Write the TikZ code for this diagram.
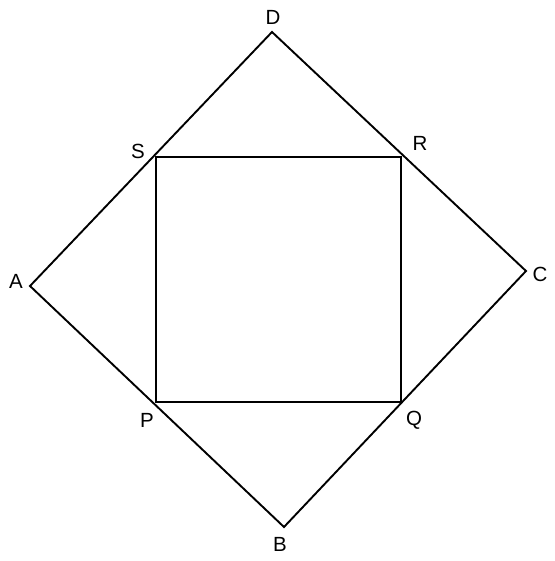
\documentclass[tikz,border=0pt]{standalone}
\usepackage{fontspec}
\setmainfont{Liberation Sans}
\begin{document}
\begin{tikzpicture}[x=1pt,y=-1pt,
  edge/.style={draw=black,line width=1.9pt,line join=miter},
  lbl/.style={font=\fontsize{20.5}{24}\selectfont,inner sep=0pt}]
\useasboundingbox (0,0) rectangle (554,561);
\coordinate (A) at (30,286);
\coordinate (B) at (284,527);
\coordinate (C) at (526,271);
\coordinate (D) at (272,32);
\coordinate (P) at (156,402);
\coordinate (Q) at (401,402);
\coordinate (R) at (401,157);
\coordinate (S) at (156,157);
\draw[edge] (A) -- (B) -- (C) -- (D) -- cycle;
\draw[edge] (P) -- (Q) -- (R) -- (S) -- cycle;
\node[lbl] (lA) at (16,281) {A};
\node[lbl] (lB) at (280,544) {B};
\node[lbl] (lC) at (540,274) {C};
\node[lbl] (lD) at (273,17) {D};
\node[lbl] (lP) at (147,420) {P};
\node[lbl] (lQ) at (414,420) {Q};
\node[lbl] (lR) at (420,143) {R};
\node[lbl] (lS) at (138,151) {S};
\end{tikzpicture}
\end{document}
